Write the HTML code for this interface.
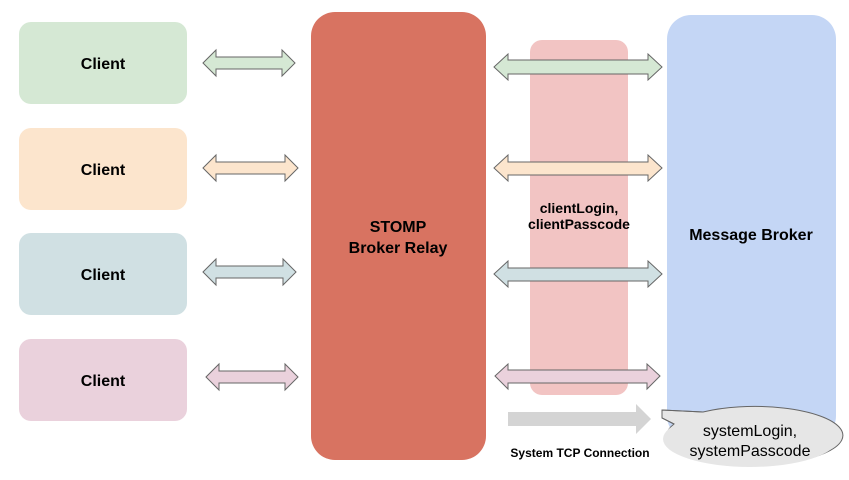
<!DOCTYPE html>
<html><head><meta charset="utf-8"><style>
html,body{margin:0;padding:0;background:#fff;}
svg{display:block;}
text{font-family:"Liberation Sans",Arial,sans-serif;}
</style></head><body>
<svg width="849" height="480" viewBox="0 0 849 480" xmlns="http://www.w3.org/2000/svg">
<!-- clients -->
<rect x="19" y="22" width="168" height="82" rx="12" fill="#d5e8d4"/>
<rect x="19" y="128" width="168" height="82" rx="12" fill="#fce5cd"/>
<rect x="19" y="233" width="168" height="82" rx="12" fill="#d0e0e3"/>
<rect x="19" y="339" width="168" height="82" rx="12" fill="#ead1dc"/>
<g font-weight="bold" font-size="16" text-anchor="middle" fill="#000">
<text x="103" y="69">Client</text>
<text x="103" y="175">Client</text>
<text x="103" y="280">Client</text>
<text x="103" y="386">Client</text>
</g>
<!-- relay -->
<rect x="311" y="12" width="175" height="448" rx="24" fill="#d87361"/>
<text x="398" y="232" font-weight="bold" font-size="16" text-anchor="middle">STOMP</text>
<text x="398" y="253" font-weight="bold" font-size="16" text-anchor="middle">Broker Relay</text>
<!-- pink column -->
<rect x="530" y="40" width="98" height="355" rx="12" fill="#f2c4c3"/>
<!-- broker -->
<rect x="667" y="15" width="169" height="425" rx="24" fill="#c4d6f5"/>
<text x="751" y="240" font-weight="bold" font-size="16" text-anchor="middle">Message Broker</text>
<text x="579" y="213" font-weight="bold" font-size="14" text-anchor="middle">clientLogin,</text>
<text x="579" y="229" font-weight="bold" font-size="14" text-anchor="middle">clientPasscode</text>
<!-- arrows -->
<g stroke="#666" stroke-width="1">
<path fill="#d5e8d4" d="M203 63 L216 50 L216 57 L282 57 L282 50 L295 63 L282 76 L282 69 L216 69 L216 76 Z"/>
<path fill="#fce5cd" d="M203 168 L216 155 L216 162 L285 162 L285 155 L298 168 L285 181 L285 174 L216 174 L216 181 Z"/>
<path fill="#d0e0e3" d="M203 272 L216 259 L216 266 L283 266 L283 259 L296 272 L283 285 L283 278 L216 278 L216 285 Z"/>
<path fill="#ead1dc" d="M206 377 L219 364 L219 371 L285 371 L285 364 L298 377 L285 390 L285 383 L219 383 L219 390 Z"/>
<path fill="#d5e8d4" d="M494 67 L508 54 L508 60 L648 60 L648 54 L662 67 L648 80 L648 74 L508 74 L508 80 Z"/>
<path fill="#fce5cd" d="M494 168 L508 155 L508 162 L648 162 L648 155 L662 168 L648 181 L648 175 L508 175 L508 181 Z"/>
<path fill="#d0e0e3" d="M494 274 L508 261 L508 268 L648 268 L648 261 L662 274 L648 287 L648 281 L508 281 L508 287 Z"/>
<path fill="#ead1dc" d="M495 376 L508 364 L508 370 L647 370 L647 364 L660 376 L647 389 L647 383 L508 383 L508 389 Z"/>
</g>
<!-- gray system arrow -->
<path fill="#d4d4d4" d="M508 412 L636 412 L636 404 L651 419 L636 434 L636 426 L508 426 Z"/>
<text x="580" y="457" font-weight="bold" font-size="12" text-anchor="middle">System TCP Connection</text>
<!-- callout ellipse -->
<path fill="#e6e6e6" stroke="#666" stroke-width="1" d="M662 410 L703 412 A88 29 0 1 1 674 424 L662 418 Z"/>
<ellipse cx="750" cy="439" rx="87" ry="28" fill="#e6e6e6"/>
<path fill="none" stroke="#666" stroke-width="1" d="M674 424 L662 418 L662 410 L703 412"/>
<text x="750" y="436" font-size="16" text-anchor="middle">systemLogin,</text>
<text x="750" y="456" font-size="16" text-anchor="middle">systemPasscode</text>
</svg>
</body></html>
